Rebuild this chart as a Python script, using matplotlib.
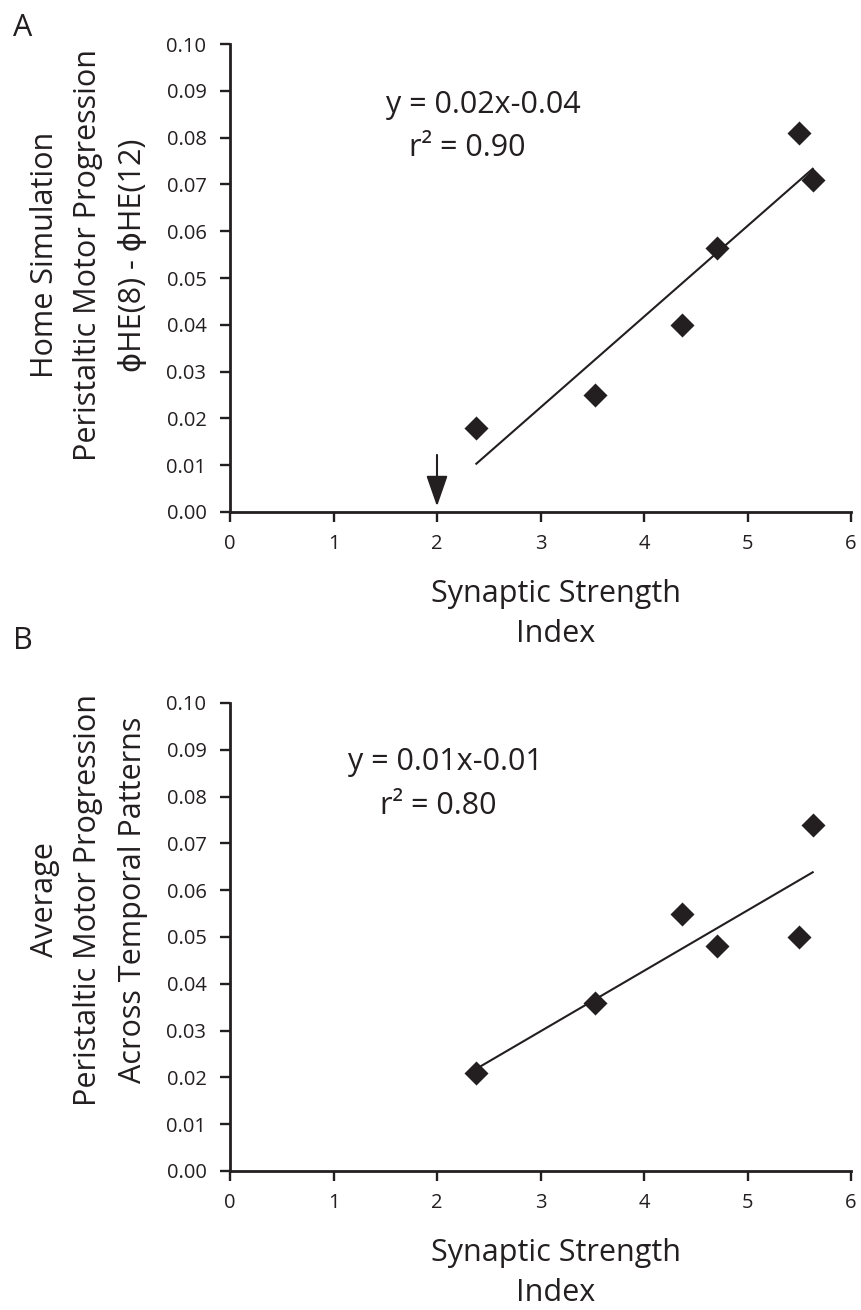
import numpy as np
import matplotlib
matplotlib.use('Agg')
import matplotlib.pyplot as plt

plt.rcParams['font.family'] = ['Open Sans', 'DejaVu Sans']

# values
strength = [2.38, 3.53, 4.37, 4.71, 5.50, 5.63]
home_prog = [0.018, 0.025, 0.040, 0.0565, 0.081, 0.071]
avg_prog = [0.021, 0.036, 0.055, 0.048, 0.050, 0.074]

xticks = [0, 1, 2, 3, 4, 5, 6]
yticks = [0.00, 0.01, 0.02, 0.03, 0.04, 0.05, 0.06, 0.07, 0.08, 0.09, 0.10]

eq_a = ['y = 0.02x-0.04', 'r\u00b2 = 0.90']
eq_b = ['y = 0.01x-0.01', 'r\u00b2 = 0.80']
ylab_a = ['Home Simulation', 'Peristaltic Motor Progression', '\u03d5HE(8) - \u03d5HE(12)']
ylab_b = ['Average', 'Peristaltic Motor Progression', 'Across Temporal Patterns']
xlab = ['Synaptic Strength', 'Index']

ink = '#231f20'
W, H = 861, 1310

fig = plt.figure(figsize=(W / 100, H / 100), dpi=100)


def fx(px):
    return px / W


def fy(py):
    return 1 - py / H


def panel(top_px, yvals, eq, eq_pos, ylab, letter, letter_y, ylab_cy):
    ax = fig.add_axes([fx(230), fy(top_px + 468), fx(621), 468 / H])
    ax.scatter(strength, yvals, marker='D', s=150, color=ink, zorder=3, linewidths=0)
    k, b = np.polyfit(strength, yvals, 1)
    xs = np.array([min(strength), max(strength)])
    ax.plot(xs, k * xs + b, color=ink, lw=1.5)
    ax.set_xlim(0, 6)
    ax.set_ylim(0, 0.10)
    ax.set_xticks(xticks)
    ax.set_yticks(yticks)
    ax.set_yticklabels(['%.2f' % v for v in yticks])
    for s in ['top', 'right']:
        ax.spines[s].set_visible(False)
    for s in ['left', 'bottom']:
        ax.spines[s].set_linewidth(2.0)
        ax.spines[s].set_color(ink)
    ax.tick_params(axis='y', direction='out', length=7, width=1.7, pad=10,
                   labelsize=14.5, colors=ink)
    ax.tick_params(axis='x', direction='out', length=7, width=1.7, pad=9,
                   labelsize=14.5, colors=ink)
    for t, (xd, yd) in zip(eq, eq_pos):
        ax.text(xd, yd, t, fontsize=22, color=ink, ha='center', va='center')
    # axis labels placed line by line
    for i, t in enumerate(xlab):
        fig.text(fx(556), fy(top_px + 468 + 82 + 40 * i), t, fontsize=22,
                 color=ink, ha='center', va='center')
    for t, xp in zip(ylab, [45, 88, 133]):
        fig.text(fx(xp), fy(ylab_cy), t, fontsize=22, color=ink, rotation=90,
                 ha='center', va='center')
    fig.text(fx(23), fy(letter_y), letter, fontsize=22, color=ink,
             ha='center', va='center')
    return ax


ax_a = panel(44, home_prog, eq_a, [(2.45, 0.087), (2.29, 0.0778)],
             ylab_a, 'A', 28, 255)
ax_a.annotate('', xy=(2, 0.0012), xytext=(2, 0.0122),
              arrowprops=dict(arrowstyle='-|>,head_length=0.95,head_width=0.33',
                              mutation_scale=20, color=ink, lw=1.5,
                              shrinkA=0, shrinkB=0))

ax_b = panel(703, avg_prog, eq_b, [(2.08, 0.0874), (2.01, 0.078)],
             ylab_b, 'B', 641, 900)

fig.savefig('out.png', dpi=100)
